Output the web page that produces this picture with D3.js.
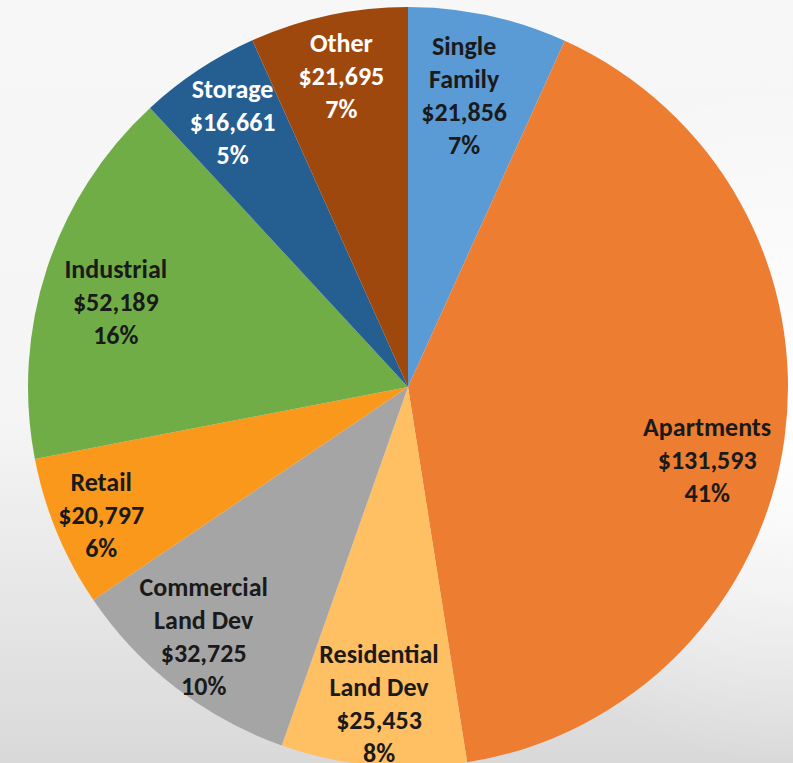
<!DOCTYPE html>
<html>
<head>
<meta charset="utf-8">
<script src="https://cdn.jsdelivr.net/npm/d3@7"></script>
<style>
  html, body { margin: 0; padding: 0; overflow: hidden; }
  svg { display: block; }
  .lbl { font-family: Carlito, Lato, "Open Sans", sans-serif; font-weight: bold; font-size: 26px; }
</style>
</head>
<body>
<div id="chart"></div>
<script>
// data (clockwise from 12 o'clock)
var categories = ["Single Family", "Apartments", "Residential Land Dev", "Commercial Land Dev",
                  "Retail", "Industrial", "Storage", "Other"];
var values = [21856, 131593, 25453, 32725, 20797, 52189, 16661, 21695];
var labelLines = [["Single", "Family"], ["Apartments"], ["Residential", "Land Dev"], ["Commercial", "Land Dev"],
                  ["Retail"], ["Industrial"], ["Storage"], ["Other"]];

var colors = ["#5b9bd5", "#ed7d31", "#ffbf63", "#a5a5a5", "#fa981c", "#70ad47", "#255e91", "#9e480e"];
var textColors = ["#1a1a1a", "#1a1a1a", "#1a1a1a", "#1a1a1a", "#1a1a1a", "#1a1a1a", "#ffffff", "#ffffff"];
// small hand tweaks of where excel put the labels
var nudge = {"Single Family": [-11, 19], "Apartments": [-16, 30], "Retail": [-13, 6],
             "Industrial": [10, 14], "Commercial Land Dev": [-10, -2]};

var width = 793, height = 763;
var cx = 408, cy = 387, radius = 380;
var lineH = 33;

var svg = d3.select("#chart").append("svg")
    .attr("width", width)
    .attr("height", height);

// background
var defs = svg.append("defs");
var bg = defs.append("linearGradient").attr("id", "bg").attr("x1", 0).attr("y1", 0).attr("x2", 0).attr("y2", 1);
bg.append("stop").attr("offset", "0%").attr("stop-color", "#f7f7f7");
bg.append("stop").attr("offset", "55%").attr("stop-color", "#f5f5f5");
bg.append("stop").attr("offset", "100%").attr("stop-color", "#d9d9d9");
var bg2 = defs.append("radialGradient").attr("id", "bg2").attr("cx", 1).attr("cy", 0.55).attr("r", 0.45);
bg2.append("stop").attr("offset", "0%").attr("stop-color", "#ffffff").attr("stop-opacity", 1);
bg2.append("stop").attr("offset", "100%").attr("stop-color", "#ffffff").attr("stop-opacity", 0);

svg.append("rect").attr("width", width).attr("height", height).attr("fill", "url(#bg)");
svg.append("rect").attr("width", width).attr("height", height).attr("fill", "url(#bg2)");

var total = d3.sum(values);
var data = categories.map(function(c, i) { return {name: c, value: values[i], i: i}; });

var pie = d3.pie().sort(null).value(function(d) { return d.value; });
var arc = d3.arc().innerRadius(0).outerRadius(radius);
var labelArc = d3.arc().innerRadius(radius * 0.837).outerRadius(radius * 0.837);

var g = svg.append("g").attr("transform", "translate(" + cx + "," + cy + ")");

var arcs = pie(data);

g.selectAll("path.slice")
    .data(arcs)
    .enter()
    .append("path")
    .attr("class", "slice")
    .attr("d", arc)
    .attr("fill", function(d) { return colors[d.data.i]; });

var fmt = d3.format(",");

arcs.forEach(function(d) {
    var i = d.data.i;
    var lines = labelLines[i].slice();
    lines.push("$" + fmt(d.data.value));
    lines.push(Math.round(d.data.value / total * 100) + "%");
    var c = labelArc.centroid(d);
    var n = nudge[d.data.name] || [0, 0];
    var x = c[0] + n[0], y = c[1] + n[1];
    var top = y - (lines.length - 1) * lineH / 2;

    var t = g.append("text")
        .attr("class", "lbl")
        .attr("text-anchor", "middle")
        .attr("fill", textColors[i]);
    lines.forEach(function(l, k) {
        t.append("tspan")
            .attr("x", x)
            .attr("y", top + k * lineH)
            .attr("dy", "0.35em")
            .text(l);
    });
});
</script>
</body>
</html>
